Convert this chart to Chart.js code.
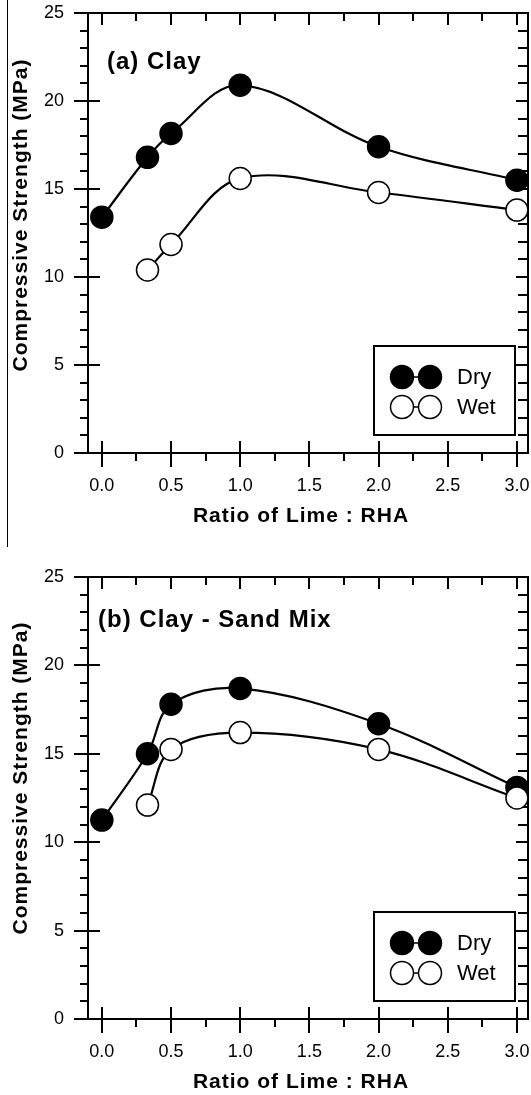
<!DOCTYPE html>
<html>
<head>
<meta charset="utf-8">
<script src="https://cdn.jsdelivr.net/npm/chart.js@4/dist/chart.umd.min.js"></script>
<style>
  html, body { margin: 0; padding: 0; background: #fff; }
  #page { position: relative; width: 531px; height: 1095px; overflow: hidden; }
  .panel { position: absolute; left: 0; }
  #cut { position: absolute; left: 7px; top: 0; width: 1px; height: 547px; background: #000; }
</style>
</head>
<body>
<div id="page">
  <canvas id="clay" class="panel" width="531" height="548" style="top:0"></canvas>
  <canvas id="mix" class="panel" width="531" height="547" style="top:548px"></canvas>
  <div id="cut"></div>
</div>
<script>
// Ratio of lime : RHA
const ratioDry = [0, 0.33, 0.5, 1, 2, 3];
const ratioWet = [0.33, 0.5, 1, 2, 3];

// (a) Clay - compressive strength, MPa
const clayDry = [13.4, 16.8, 18.15, 20.9, 17.4, 15.5];
const clayWet = [10.4, 11.85, 15.6, 14.8, 13.8];

// (b) Clay - Sand Mix
const mixDry = [11.25, 15.0, 17.8, 18.7, 16.7, 13.1];
const mixWet = [12.1, 15.25, 16.2, 15.25, 12.5];

const xTicks = [0, 0.5, 1, 1.5, 2, 2.5, 3];
const xMinor = [0.25, 0.75, 1.25, 1.75, 2.25, 2.75];
const yTicks = [0, 5, 10, 15, 20, 25];
const yMinor = [];
for (let v = 1; v < 25; v++) if (v % 5) yMinor.push(v);

const seriesNames = ['Dry', 'Wet'];
const FONT = '"Liberation Sans", Arial, sans-serif';

const pts = (xs, ys) => xs.map((x, i) => ({ x, y: ys[i] }));

// frame, inner/outer ticks, legend box, titles
const framePlugin = {
  id: 'frame',
  beforeDatasetsDraw(chart) {
    const { ctx, chartArea: a, scales: { x, y } } = chart;
    ctx.save();
    ctx.strokeStyle = '#000';
    ctx.lineWidth = 2;
    ctx.strokeRect(a.left, a.top, a.right - a.left, a.bottom - a.top);
    ctx.beginPath();
    xTicks.forEach(v => {
      const p = Math.round(x.getPixelForValue(v));
      ctx.moveTo(p, a.bottom - 12); ctx.lineTo(p, a.bottom + 14);
      ctx.moveTo(p, a.top); ctx.lineTo(p, a.top + 12);
    });
    xMinor.forEach(v => {
      const p = Math.round(x.getPixelForValue(v));
      ctx.moveTo(p, a.bottom); ctx.lineTo(p, a.bottom + 8);
      ctx.moveTo(p, a.top); ctx.lineTo(p, a.top + 8);
    });
    yTicks.forEach(v => {
      const p = Math.round(y.getPixelForValue(v));
      ctx.moveTo(a.left - 14, p); ctx.lineTo(a.left + 12, p);
      ctx.moveTo(a.right - 12, p); ctx.lineTo(a.right, p);
    });
    yMinor.forEach(v => {
      const p = Math.round(y.getPixelForValue(v));
      ctx.moveTo(a.left - 8, p); ctx.lineTo(a.left, p);
      ctx.moveTo(a.right - 10, p); ctx.lineTo(a.right, p);
    });
    ctx.stroke();
    ctx.restore();
  },
  afterDraw(chart, args, opts) {
    const { ctx, chartArea: a } = chart;
    ctx.save();
    ctx.fillStyle = '#000';
    ctx.strokeStyle = '#000';

    // panel label
    ctx.font = 'bold 24px ' + FONT;
    ctx.letterSpacing = '1px';
    ctx.textAlign = 'left';
    ctx.textBaseline = 'middle';
    ctx.fillText(opts.label, opts.labelX, opts.labelY);

    // axis titles
    ctx.font = 'bold 21px ' + FONT;
    ctx.textAlign = 'center';
    ctx.fillText('Ratio of Lime : RHA', 301, opts.xTitleY);
    ctx.save();
    ctx.translate(21, opts.yTitleY);
    ctx.rotate(-Math.PI / 2);
    ctx.fillText('Compressive Strength (MPa)', 0, 0);
    ctx.restore();

    // legend
    const bx = a.right - 154, by = a.bottom - 107, bw = 141, bh = 89;
    ctx.lineWidth = 2;
    ctx.strokeRect(bx, by, bw, bh);
    ctx.letterSpacing = '0px';
    ctx.font = '22px ' + FONT;
    ctx.textAlign = 'left';
    chart.data.datasets.slice().sort((p, q) => seriesNames.indexOf(p.label) - seriesNames.indexOf(q.label)).forEach((ds, i) => {
      const cy = by + 31 + i * 30;
      const x1 = bx + 28, x2 = bx + 56;
      ctx.lineWidth = 1.5;
      ctx.beginPath(); ctx.moveTo(x1, cy); ctx.lineTo(x2, cy); ctx.stroke();
      [x1, x2].forEach(cx => {
        ctx.beginPath();
        ctx.arc(cx, cy, 11.5, 0, Math.PI * 2);
        ctx.fillStyle = ds.pointBackgroundColor;
        ctx.fill();
        ctx.stroke();
      });
      ctx.fillStyle = '#000';
      ctx.fillText(ds.label, bx + 83, cy + 1);
    });
    ctx.restore();
  }
};

function makePanel(id, dry, wet, opts) {
  const canvas = document.getElementById(id);
  const h = canvas.height;
  return new Chart(canvas, {
    type: 'scatter',
    data: {
      datasets: [
        {
          label: 'Wet', data: pts(ratioWet, wet), order: 0,
          showLine: true, tension: 0.35, borderColor: '#000', borderWidth: 2.2,
          pointRadius: 11, pointBorderWidth: 1.5,
          pointBackgroundColor: '#fff', pointBorderColor: '#000'
        },
        {
          label: 'Dry', data: pts(ratioDry, dry), order: 1,
          showLine: true, tension: 0.35, borderColor: '#000', borderWidth: 2.2,
          pointRadius: 11, pointBorderWidth: 1.5,
          pointBackgroundColor: '#000', pointBorderColor: '#000'
        }
      ]
    },
    options: {
      responsive: false,
      animation: false,
      devicePixelRatio: 1,
      layout: { autoPadding: false, padding: { top: opts.top, right: 3, left: 0, bottom: 0 } },
      plugins: {
        legend: { display: false },
        tooltip: { enabled: false },
        frame: opts
      },
      scales: {
        x: {
          type: 'linear', min: -0.1, max: 3.08,
          afterBuildTicks: s => { s.ticks = xTicks.map(v => ({ value: v })); },
          afterFit: s => { s.height = h - opts.bottom; s.paddingLeft = 0; s.paddingRight = 0; },
          grid: { display: false, drawTicks: true, tickLength: 14 },
          border: { display: false },
          ticks: {
            color: '#000', padding: 8, maxRotation: 0,
            font: { family: FONT, size: 18 },
            callback: v => v.toFixed(1)
          }
        },
        y: {
          type: 'linear', min: 0, max: 25,
          afterBuildTicks: s => { s.ticks = yTicks.map(v => ({ value: v })); },
          afterFit: s => { s.width = 88; s.paddingTop = 0; s.paddingBottom = 0; },
          grid: { display: false, drawTicks: true, tickLength: 14 },
          border: { display: false },
          ticks: {
            color: '#000', padding: 10,
            font: { family: FONT, size: 18 },
            callback: v => String(v)
          }
        }
      }
    },
    plugins: [framePlugin]
  });
}

makePanel('clay', clayDry, clayWet, {
  top: 13, bottom: 453,
  label: '(a) Clay', labelX: 107, labelY: 62,
  xTitleY: 516, yTitleY: 215
});

makePanel('mix', mixDry, mixWet, {
  top: 29, bottom: 471,
  label: '(b) Clay - Sand Mix', labelX: 98, labelY: 72,
  xTitleY: 534, yTitleY: 230
});
</script>
</body>
</html>
